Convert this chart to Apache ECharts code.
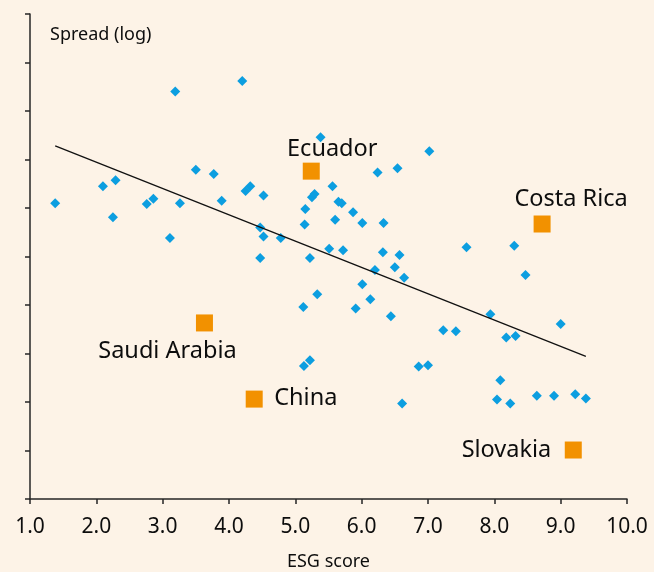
<!DOCTYPE html>
<html>
<head>
<meta charset="utf-8">
<script src="https://cdn.jsdelivr.net/npm/echarts@6/dist/echarts.min.js"></script>
<style>
  html, body { margin: 0; padding: 0; background: #fdf3e7; }
  #main { width: 654px; height: 572px; }
</style>
</head>
<body>
<div id="main"></div>
<script>
// ESG score vs spread (log) - other countries
const esgScores = [1.38, 2.10, 2.29, 2.25, 2.76, 2.86, 3.11, 3.19, 3.26, 3.50,
  3.77, 3.89, 4.20, 4.25, 4.32, 4.52, 4.47, 4.52, 4.78, 4.47,
  5.15, 5.14, 5.22, 5.25, 5.29, 5.38, 5.51, 5.72, 5.56, 5.65,
  5.70, 5.87, 5.60, 6.01, 6.33, 6.24, 6.54, 7.02, 6.32, 6.57,
  6.20, 6.50, 6.64, 6.01, 5.33, 5.12, 6.13, 5.91, 6.44, 5.13,
  5.22, 6.86, 7.00, 6.61, 7.23, 7.42, 7.58, 7.94, 8.18, 8.32,
  8.30, 8.47, 9.00, 8.09, 8.04, 8.24, 8.64, 8.90, 9.22, 9.38]
const spreads = [6.10, 6.45, 6.57, 5.81, 6.08, 6.19, 5.38, 8.40, 6.10, 6.79,
  6.70, 6.15, 8.62, 6.35, 6.45, 6.26, 5.60, 5.41, 5.38, 4.97,
  5.98, 5.66, 4.97, 6.22, 6.29, 7.46, 5.16, 5.13, 6.45, 6.13,
  6.10, 5.91, 5.76, 5.69, 5.69, 6.73, 6.82, 7.17, 5.09, 5.03,
  4.72, 4.78, 4.56, 4.43, 4.22, 3.96, 4.12, 3.93, 3.77, 2.74,
  2.86, 2.73, 2.76, 1.97, 3.48, 3.46, 5.19, 3.81, 3.33, 3.36,
  5.22, 4.62, 3.61, 2.45, 2.05, 1.97, 2.13, 2.13, 2.16, 2.07]

// highlighted countries
const hlNames = ['Ecuador', 'Costa Rica', 'Saudi Arabia', 'China', 'Slovakia']
const hlEsg = [5.24, 8.72, 3.63, 4.38, 9.19]
const hlSpread = [6.76, 5.67, 3.63, 2.06, 1.01]

// fitted line end points
const trendEsg = [1.38, 9.38]
const trendSpread = [7.28, 2.94]

const xTicks = ['1.0', '2.0', '3.0', '4.0', '5.0', '6.0', '7.0', '8.0', '9.0', '10.0']

const font = 'Noto Sans'
const ink = '#0d0d0d'

// label placement for each highlighted square
const hlLabel = [
  { align: 'center', offset: [21, -22] },
  { align: 'center', offset: [29, -25] },
  { align: 'center', offset: [-37, 28] },
  { align: 'left', offset: [20, -1] },
  { align: 'right', offset: [-22, 0] }
]

var chartDom = document.getElementById('main')
var myChart = echarts.init(chartDom)
var option

const others = esgScores.map((x, i) => [x, spreads[i]])
const highlighted = hlNames.map((n, i) => ({
  name: n,
  value: [hlEsg[i], hlSpread[i]],
  label: {
    show: true,
    formatter: n,
    position: 'inside',
    align: hlLabel[i].align,
    verticalAlign: 'middle',
    offset: hlLabel[i].offset,
    color: ink,
    textBorderWidth: 0,
    fontFamily: font,
    fontSize: 23.5
  }
}))

option = {
  backgroundColor: '#fdf3e7',
  animation: false,
  grid: {
    left: 30,
    right: 27,
    top: 14,
    bottom: 73,
    containLabel: false,
    outerBoundsMode: 'none'
  },
  graphic: [
    {
      type: 'text',
      left: 50,
      top: 26,
      style: {
        text: 'Spread (log)',
        fill: ink,
        font: '18px "Noto Sans"'
      }
    }
  ],
  xAxis: {
    type: 'value',
    min: 1,
    max: 10,
    interval: 1,
    name: 'ESG score',
    nameLocation: 'middle',
    nameGap: 54,
    nameTextStyle: { color: ink, fontFamily: font, fontSize: 18 },
    axisLine: { lineStyle: { color: '#262626', width: 1.5 } },
    axisTick: { show: true, length: 5, lineStyle: { color: '#262626', width: 1.5 } },
    axisLabel: {
      margin: 18,
      color: ink,
      fontFamily: font,
      fontSize: 21,
      formatter: function (v) {
        return xTicks[Math.round(v) - 1]
      }
    },
    splitLine: { show: false }
  },
  yAxis: {
    type: 'value',
    min: 0,
    max: 10,
    interval: 1,
    axisLine: { show: true, lineStyle: { color: '#262626', width: 1.5 } },
    axisTick: { show: true, length: 5, lineStyle: { color: '#262626', width: 1.5 } },
    axisLabel: { show: false },
    splitLine: { show: false }
  },
  series: [
    {
      type: 'scatter',
      symbol: 'diamond',
      symbolSize: 10,
      itemStyle: { color: '#0c9ee0', opacity: 1 },
      data: others,
      z: 2
    },
    {
      type: 'line',
      data: trendEsg.map((x, i) => [x, trendSpread[i]]),
      symbol: 'none',
      lineStyle: { color: '#111', width: 1.3 },
      z: 3
    },
    {
      type: 'scatter',
      symbol: 'rect',
      symbolSize: 17,
      itemStyle: { color: '#f29100', opacity: 1 },
      data: highlighted,
      z: 4
    }
  ]
}

option && myChart.setOption(option)
</script>
</body>
</html>
